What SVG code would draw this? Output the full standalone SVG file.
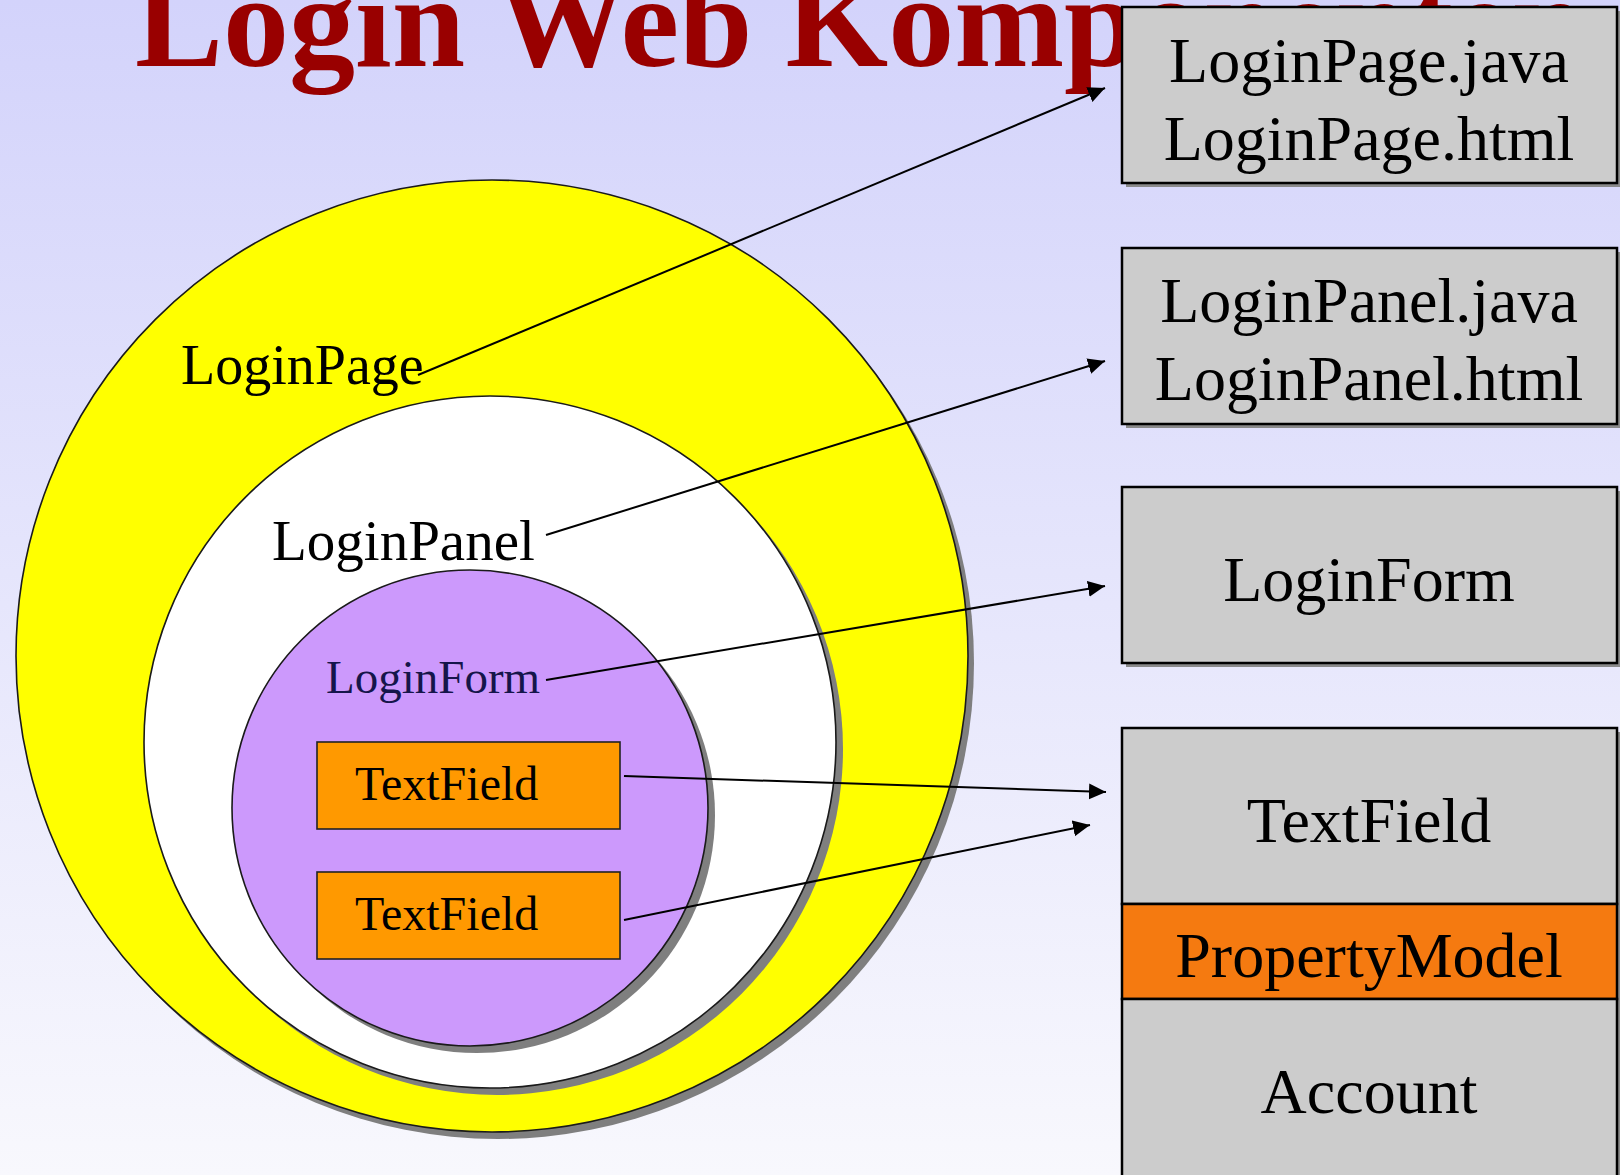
<svg xmlns="http://www.w3.org/2000/svg" width="1620" height="1175" viewBox="0 0 1620 1175">
  <defs>
    <linearGradient id="bg" x1="0" y1="0" x2="0" y2="1">
      <stop offset="0" stop-color="#d3d3fb"/>
      <stop offset="1" stop-color="#f8f8fd"/>
    </linearGradient>
    <marker id="arrow" markerUnits="userSpaceOnUse" markerWidth="18" markerHeight="18" refX="17" refY="8" orient="auto">
      <path d="M0,0 L17,8 L0,16 Z" fill="#000"/>
    </marker>
    <style>
      .shadow { fill: #7f7f7f; }
      .ring { stroke: #1a1a1a; stroke-width: 1.6; }
      .lbl { font-family: "Liberation Serif", "Times New Roman", serif; fill: #000; }
      .box { fill: #cccccc; stroke: #000; stroke-width: 2.5; }
      .boxshadow { fill: #8a8a8a; }
      .big { font-family: "Liberation Serif", "Times New Roman", serif; font-size: 64px; fill: #000; text-anchor: middle; }
      .field { fill: #ff9900; stroke: #222; stroke-width: 1.6; }
      .conn { fill: none; stroke: #000; stroke-width: 2; marker-end: url(#arrow); }
    </style>
  </defs>

  <!-- background -->
  <rect x="0" y="0" width="1620" height="1175" fill="url(#bg)"/>

  <!-- title, partly hidden behind the first box -->
  <text id="title" x="135" y="66" font-family="Liberation Serif, Times New Roman, serif" font-weight="bold" font-size="132" fill="#990000">Login Web Komponenten</text>

  <!-- nested components -->
  <g id="loginpage">
    <circle class="shadow" cx="498" cy="663" r="476"/>
    <circle class="ring" cx="492" cy="656" r="476" fill="#ffff00"/>
    <text class="lbl" x="181" y="384" font-size="56">LoginPage</text>
  </g>
  <g id="loginpanel">
    <circle class="shadow" cx="497" cy="749" r="346"/>
    <circle class="ring" cx="490" cy="742" r="346" fill="#ffffff"/>
    <text class="lbl" x="272" y="560" font-size="57">LoginPanel</text>
  </g>
  <g id="loginform">
    <circle class="shadow" cx="477" cy="815" r="238"/>
    <circle class="ring" cx="470" cy="808" r="238" fill="#cc99fc"/>
    <text class="lbl" x="326" y="693" font-size="47" style="fill:#15154a">LoginForm</text>
  </g>
  <g id="textfield1">
    <rect class="field" x="317" y="742" width="303" height="87"/>
    <text class="lbl" x="355" y="800" font-size="48">TextField</text>
  </g>
  <g id="textfield2">
    <rect class="field" x="317" y="872" width="303" height="87"/>
    <text class="lbl" x="355" y="930" font-size="48">TextField</text>
  </g>

  <!-- source files / classes -->
  <g id="box-page">
    <rect class="boxshadow" x="1126" y="11" width="495" height="176"/>
    <rect class="box" x="1122" y="7" width="495" height="176"/>
    <text class="big" x="1369" y="82">LoginPage.java</text>
    <text class="big" x="1369" y="160">LoginPage.html</text>
  </g>
  <g id="box-panel">
    <rect class="boxshadow" x="1126" y="252" width="495" height="176"/>
    <rect class="box" x="1122" y="248" width="495" height="176"/>
    <text class="big" x="1369" y="322">LoginPanel.java</text>
    <text class="big" x="1369" y="400">LoginPanel.html</text>
  </g>
  <g id="box-form">
    <rect class="boxshadow" x="1126" y="491" width="495" height="176"/>
    <rect class="box" x="1122" y="487" width="495" height="176"/>
    <text class="big" x="1369" y="601">LoginForm</text>
  </g>
  <g id="box-field">
    <rect class="boxshadow" x="1126" y="732" width="495" height="460"/>
    <rect class="box" x="1122" y="728" width="495" height="176"/>
    <rect class="box" x="1122" y="904" width="495" height="95" style="fill:#f57a10"/>
    <rect class="box" x="1122" y="999" width="495" height="200"/>
    <text class="big" x="1369" y="842">TextField</text>
    <text class="big" x="1369" y="977">PropertyModel</text>
    <text class="big" x="1369" y="1113">Account</text>
  </g>

  <!-- connectors -->
  <g id="connectors">
    <path class="conn" d="M418,375 L1105,88"/>
    <path class="conn" d="M546,535 L1105,361"/>
    <path class="conn" d="M546,680 L1105,586"/>
    <path class="conn" d="M624,776 L1106,792"/>
    <path class="conn" d="M624,920 L1090,825"/>
  </g>
</svg>
